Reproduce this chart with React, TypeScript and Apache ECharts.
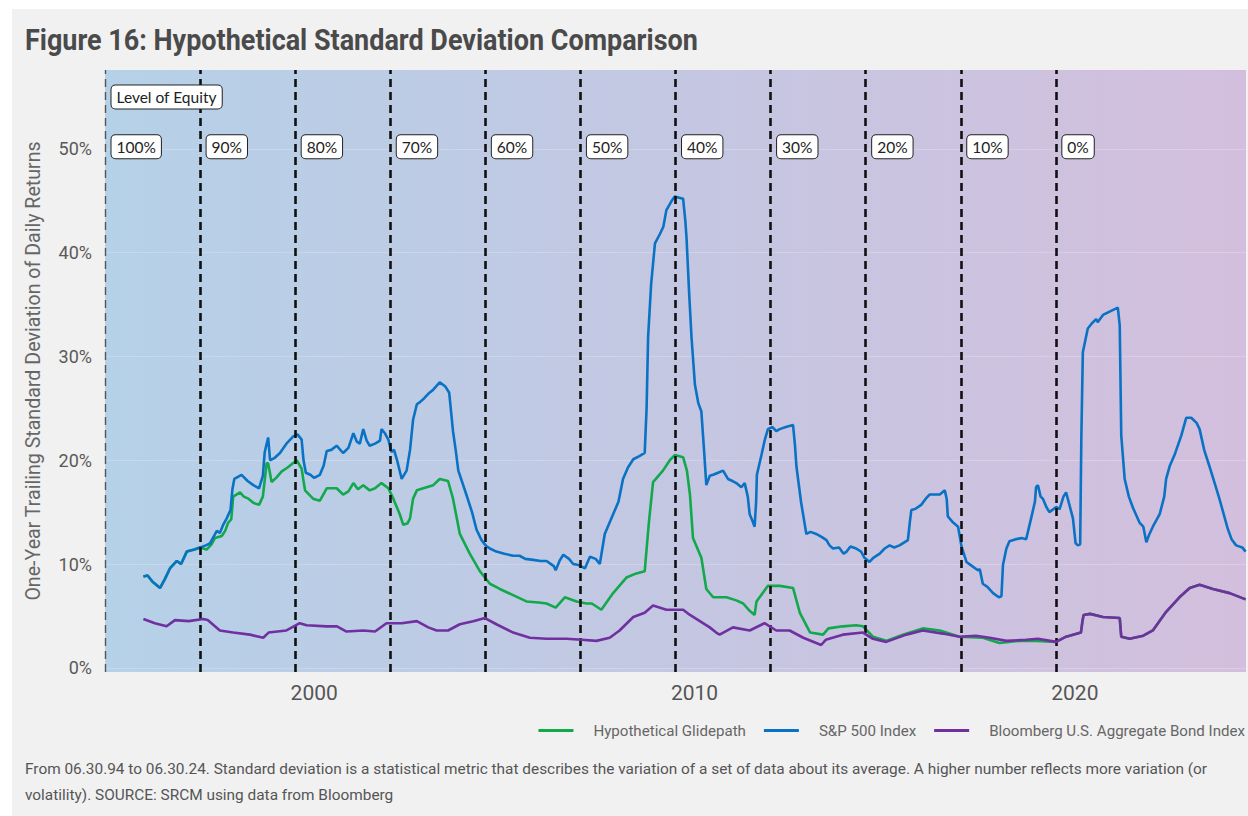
import React, { useEffect, useRef } from "react";
import * as echarts from "echarts";

// ---- Data (decimal year, one-year trailing std. dev. in %) ----
const glideYears = [1994.5, 1997, 1999.5, 2002, 2004.5, 2007, 2009.5, 2012, 2014.5, 2017, 2019.5];
const equityLevels = ["100%", "90%", "80%", "70%", "60%", "50%", "40%", "30%", "20%", "10%", "0%"];
const xTickYears = [2000, 2010, 2020];
const yTickValues = [0, 10, 20, 30, 40, 50];
const seriesNames = ["Hypothetical Glidepath", "S&P 500 Index", "Bloomberg U.S. Aggregate Bond Index"];

const sp500: number[][] = [
  [1995.51, 8.8], [1995.62, 8.9], [1995.75, 8.3], [1995.95, 7.7], [1996.08, 8.6], [1996.21, 9.6],
  [1996.39, 10.3], [1996.5, 10.0], [1996.65, 11.2], [1996.85, 11.4], [1997.0, 11.6], [1997.15, 11.8],
  [1997.26, 12.0], [1997.35, 12.6], [1997.44, 13.2], [1997.52, 13.0], [1997.61, 13.8], [1997.7, 14.4],
  [1997.8, 15.2], [1997.85, 17.2], [1997.9, 18.2], [1998.09, 18.6], [1998.25, 18.0], [1998.4, 17.6],
  [1998.55, 17.3], [1998.65, 18.5], [1998.7, 20.8], [1998.79, 22.2], [1998.84, 20.0], [1998.95, 20.2],
  [1999.1, 20.7], [1999.27, 21.6], [1999.45, 22.3], [1999.56, 22.5], [1999.67, 22.0], [1999.72, 20.0],
  [1999.78, 18.8], [1999.9, 18.6], [2000.0, 18.3], [2000.15, 18.6], [2000.25, 19.5], [2000.33, 20.9],
  [2000.45, 21.0], [2000.59, 21.4], [2000.76, 20.7], [2000.9, 21.2], [2001.03, 22.6], [2001.12, 21.8],
  [2001.2, 21.6], [2001.29, 23.0], [2001.38, 21.9], [2001.46, 21.4], [2001.6, 21.6], [2001.73, 21.9],
  [2001.77, 23.0], [2001.86, 22.6], [2001.95, 22.0], [2002.03, 20.8], [2002.1, 21.0], [2002.18, 20.0],
  [2002.3, 18.2], [2002.43, 19.0], [2002.52, 21.0], [2002.6, 23.9], [2002.7, 25.4], [2002.78, 25.6],
  [2002.9, 26.0], [2003.0, 26.4], [2003.13, 26.8], [2003.3, 27.5], [2003.45, 27.1], [2003.55, 26.5],
  [2003.65, 22.8], [2003.72, 21.0], [2003.79, 19.0], [2004.0, 16.7], [2004.15, 15.0], [2004.27, 13.3],
  [2004.4, 12.3], [2004.53, 11.7], [2004.62, 11.5], [2004.79, 11.2], [2005.0, 11.0], [2005.23, 10.8],
  [2005.4, 10.8], [2005.55, 10.5], [2005.76, 10.4], [2005.95, 10.3], [2006.11, 10.3], [2006.3, 9.8],
  [2006.35, 9.4], [2006.45, 10.3], [2006.55, 10.9], [2006.7, 10.5], [2006.81, 10.0], [2006.95, 9.9],
  [2007.12, 9.6], [2007.25, 10.7], [2007.4, 10.5], [2007.51, 10.0], [2007.64, 12.9], [2007.86, 14.8],
  [2008.0, 16.0], [2008.12, 18.2], [2008.25, 19.3], [2008.39, 20.1], [2008.55, 20.4], [2008.69, 20.7],
  [2008.74, 25.0], [2008.78, 31.9], [2008.86, 37.0], [2008.96, 40.9], [2009.09, 41.8], [2009.18, 42.5],
  [2009.26, 44.1], [2009.4, 45.0], [2009.48, 45.4], [2009.7, 45.2], [2009.76, 43.0], [2009.79, 41.4],
  [2009.86, 36.0], [2009.92, 31.9], [2010.01, 27.3], [2010.1, 25.5], [2010.18, 24.7], [2010.25, 21.0],
  [2010.31, 17.6], [2010.4, 18.5], [2010.49, 18.6], [2010.62, 18.8], [2010.75, 19.0], [2010.88, 18.2],
  [2011.0, 18.0], [2011.1, 17.8], [2011.23, 17.4], [2011.32, 17.8], [2011.4, 16.5], [2011.45, 14.8],
  [2011.52, 14.2], [2011.58, 13.6], [2011.62, 16.0], [2011.64, 18.6], [2011.76, 20.5], [2011.85, 22.0],
  [2011.93, 23.0], [2012.05, 23.2], [2012.15, 22.8], [2012.24, 23.0], [2012.4, 23.2], [2012.59, 23.4],
  [2012.64, 21.5], [2012.68, 19.4], [2012.8, 16.0], [2012.94, 12.9], [2013.05, 13.1], [2013.2, 12.9],
  [2013.35, 12.6], [2013.47, 12.3], [2013.55, 11.8], [2013.64, 11.5], [2013.8, 11.6], [2013.92, 11.0],
  [2014.0, 11.2], [2014.1, 11.7], [2014.25, 11.5], [2014.38, 11.2], [2014.47, 10.6], [2014.6, 10.2],
  [2014.7, 10.6], [2014.87, 11.0], [2015.0, 11.5], [2015.13, 11.8], [2015.25, 11.6], [2015.39, 11.8],
  [2015.61, 12.3], [2015.66, 14.0], [2015.7, 15.2], [2015.8, 15.3], [2015.96, 15.7], [2016.08, 16.3],
  [2016.18, 16.7], [2016.45, 16.7], [2016.58, 17.1], [2016.63, 16.3], [2016.66, 14.6], [2016.8, 14.0],
  [2016.93, 13.6], [2017.02, 11.7], [2017.15, 10.2], [2017.3, 9.8], [2017.45, 9.4], [2017.5, 9.5],
  [2017.58, 8.1], [2017.7, 7.8], [2017.85, 7.2], [2018.0, 6.8], [2018.07, 6.9], [2018.11, 9.9],
  [2018.2, 11.5], [2018.28, 12.2], [2018.45, 12.4], [2018.6, 12.5], [2018.72, 12.4], [2018.85, 14.4],
  [2018.95, 16.0], [2018.98, 17.4], [2019.03, 17.6], [2019.1, 16.5], [2019.16, 16.3], [2019.25, 15.5],
  [2019.33, 15.0], [2019.51, 15.5], [2019.6, 15.3], [2019.7, 16.5], [2019.77, 16.9], [2019.85, 15.8],
  [2019.95, 14.4], [2020.02, 12.0], [2020.08, 11.8], [2020.14, 11.9], [2020.17, 22.0], [2020.21, 30.4],
  [2020.34, 32.7], [2020.45, 33.2], [2020.56, 33.6], [2020.6, 33.3], [2020.74, 34.0], [2020.9, 34.3],
  [2021.13, 34.7], [2021.18, 33.0], [2021.22, 22.4], [2021.31, 18.2], [2021.42, 16.5], [2021.53, 15.4],
  [2021.7, 14.0], [2021.8, 13.6], [2021.88, 12.1], [2021.95, 12.8], [2022.05, 13.6], [2022.23, 14.8],
  [2022.35, 16.5], [2022.4, 18.2], [2022.5, 19.5], [2022.62, 20.5], [2022.8, 22.4], [2022.93, 24.1],
  [2023.06, 24.1], [2023.2, 23.6], [2023.28, 23.0], [2023.4, 21.0], [2023.54, 19.4], [2023.7, 17.5],
  [2023.8, 16.3], [2024.02, 13.4], [2024.12, 12.4], [2024.24, 11.8], [2024.4, 11.6], [2024.49, 11.2],
];

// Glidepath values while equity is between 90% and 10% (before: equals S&P, after: equals bonds)
const glideMid: number[][] = [
  [1997.17, 11.4], [1997.3, 11.9], [1997.39, 12.5], [1997.57, 12.7], [1997.66, 13.2], [1997.74, 14.0],
  [1997.82, 14.3], [1997.87, 16.5], [1998.05, 16.9], [1998.15, 16.5], [1998.27, 16.3], [1998.4, 15.9],
  [1998.55, 15.7], [1998.65, 16.5], [1998.75, 19.7], [1998.79, 19.7], [1998.88, 17.9], [1999.0, 18.3],
  [1999.14, 18.9], [1999.3, 19.3], [1999.54, 20.0], [1999.67, 19.2], [1999.72, 18.0], [1999.76, 17.1],
  [1999.97, 16.3], [2000.15, 16.1], [2000.33, 17.3], [2000.59, 17.3], [2000.76, 16.7], [2000.9, 17.0],
  [2001.03, 17.8], [2001.15, 17.2], [2001.29, 17.6], [2001.46, 17.1], [2001.6, 17.3], [2001.77, 17.8],
  [2001.95, 17.3], [2002.08, 16.3], [2002.25, 14.8], [2002.34, 13.8], [2002.45, 13.9], [2002.52, 14.4],
  [2002.6, 16.3], [2002.7, 17.1], [2002.87, 17.3], [2003.13, 17.6], [2003.3, 18.2], [2003.52, 18.0],
  [2003.65, 16.3], [2003.83, 12.9], [2004.09, 11.0], [2004.36, 9.3], [2004.62, 8.1], [2004.88, 7.6],
  [2005.23, 7.0], [2005.58, 6.4], [2005.9, 6.3], [2006.11, 6.2], [2006.35, 5.8], [2006.59, 6.8],
  [2006.9, 6.4], [2007.16, 6.2], [2007.3, 6.2], [2007.55, 5.6], [2007.86, 7.2], [2008.21, 8.7],
  [2008.47, 9.1], [2008.69, 9.3], [2008.8, 14.0], [2008.91, 17.9], [2009.17, 19.0], [2009.35, 20.0],
  [2009.48, 20.5], [2009.7, 20.3], [2009.8, 19.0], [2009.88, 16.7], [2009.96, 12.5], [2010.18, 10.6],
  [2010.31, 7.6], [2010.49, 6.8], [2010.84, 6.8], [2011.1, 6.5], [2011.28, 6.2], [2011.45, 5.5],
  [2011.58, 5.1], [2011.63, 6.4], [2011.93, 7.9], [2012.24, 7.9], [2012.59, 7.7], [2012.77, 5.3],
  [2013.04, 3.4], [2013.38, 3.2], [2013.52, 3.8], [2013.9, 4.0], [2014.25, 4.1], [2014.43, 4.0],
  [2014.69, 3.0], [2015.04, 2.6], [2015.48, 3.2], [2016.0, 3.8], [2016.45, 3.6], [2016.97, 3.0],
  [2017.58, 2.9], [2018.02, 2.4], [2018.55, 2.6], [2019.0, 2.6], [2019.5, 2.5],
];

const bonds: number[][] = [
  [1995.51, 4.7], [1995.81, 4.3], [1996.12, 4.0], [1996.34, 4.6], [1996.7, 4.5], [1997.08, 4.7],
  [1997.2, 4.6], [1997.52, 3.6], [1997.87, 3.4], [1998.31, 3.2], [1998.66, 2.9], [1998.8, 3.4],
  [1999.27, 3.6], [1999.62, 4.3], [1999.8, 4.1], [2000.33, 4.0], [2000.6, 4.0], [2000.85, 3.5],
  [2001.29, 3.6], [2001.6, 3.5], [2001.9, 4.3], [2002.3, 4.3], [2002.7, 4.5], [2003.0, 3.9],
  [2003.22, 3.6], [2003.52, 3.6], [2003.83, 4.2], [2004.18, 4.5], [2004.49, 4.8], [2004.79, 4.2],
  [2005.23, 3.4], [2005.67, 2.9], [2006.11, 2.8], [2006.63, 2.8], [2007.03, 2.7], [2007.42, 2.6],
  [2007.77, 2.9], [2008.03, 3.6], [2008.39, 4.9], [2008.69, 5.3], [2008.91, 6.0], [2009.26, 5.6],
  [2009.7, 5.6], [2009.88, 5.1], [2010.14, 4.5], [2010.4, 3.9], [2010.57, 3.4], [2010.66, 3.2],
  [2011.01, 3.9], [2011.45, 3.6], [2011.84, 4.3], [2012.15, 3.6], [2012.5, 3.6], [2012.86, 2.9],
  [2013.33, 2.2], [2013.45, 2.7], [2013.9, 3.2], [2014.43, 3.4], [2014.69, 2.8], [2015.04, 2.5],
  [2015.57, 3.2], [2016.0, 3.6], [2016.53, 3.3], [2016.97, 3.0], [2017.4, 3.1], [2017.76, 2.9],
  [2018.2, 2.6], [2018.72, 2.7], [2019.03, 2.8], [2019.51, 2.5], [2019.77, 3.0], [2020.16, 3.4],
  [2020.2, 4.5], [2020.23, 5.1], [2020.4, 5.2], [2020.74, 4.9], [2021.18, 4.8], [2021.22, 3.0],
  [2021.44, 2.8], [2021.8, 3.1], [2022.05, 3.6], [2022.4, 5.4], [2022.75, 6.8], [2023.02, 7.7],
  [2023.28, 8.0], [2023.63, 7.6], [2024.07, 7.2], [2024.49, 6.6],
];

const glidepath: number[][] = [
  ...sp500.filter((p) => p[0] <= 1997.0),
  ...glideMid,
  ...bonds.filter((p) => p[0] > 2019.5),
];

const titleText = "Figure 16: Hypothetical Standard Deviation Comparison";
const yAxisTitle = "One-Year Trailing Standard Deviation of Daily Returns";
const footLine1 =
  "From 06.30.94 to 06.30.24. Standard deviation is a statistical metric that describes the variation of a set of data about its average. A higher number reflects more variation (or";
const footLine2 = "volatility). SOURCE: SRCM using data from Bloomberg";

const colors = ["#12a84c", "#0a72c4", "#7030a0"];

export default function App() {
  const ref = useRef<HTMLDivElement>(null);

  useEffect(() => {
    if (!ref.current) return;
    const chart = echarts.init(ref.current, undefined, { renderer: "svg" });

    const boxLabel = {
      show: true,
      position: "right",
      distance: 6,
      formatter: "{b}",
      backgroundColor: "#ffffff",
      borderColor: "#222222",
      borderWidth: 1,
      borderRadius: 4,
      padding: [4, 5, 3, 5],
      fontFamily: "Lato",
      fontSize: 15.5,
      color: "#222222",
    };

    const option: any = {
      animation: false,
      backgroundColor: "transparent",
      grid: {
        left: 93,
        right: 2,
        top: 61,
        bottom: 144,
        show: true,
        borderWidth: 0,
        backgroundColor: {
          type: "linear",
          x: 0,
          y: 0,
          x2: 1,
          y2: 0,
          colorStops: [
            { offset: 0, color: "#b5d1e8" },
            { offset: 0.5, color: "#c4c7e2" },
            { offset: 1, color: "#d3bfdd" },
          ],
        },
      },
      xAxis: {
        type: "value",
        min: 1994.5,
        max: 2024.5,
        axisLine: { show: false },
        axisTick: { show: false, customValues: xTickYears },
        splitLine: { show: false },
        axisLabel: {
          customValues: xTickYears,
          margin: 10,
          fontFamily: "Roboto",
          fontSize: 21,
          color: "#555555",
          formatter: (v: number) => String(Math.round(v)),
        },
      },
      yAxis: {
        type: "value",
        min: -0.4,
        max: 57.6,
        axisLine: { show: false },
        axisTick: { show: false, customValues: yTickValues },
        splitLine: { show: true, lineStyle: { color: "rgba(255,255,255,0.22)", width: 1 } },
        axisLabel: {
          customValues: yTickValues,
          margin: 13,
          fontFamily: "Roboto",
          fontSize: 18,
          color: "#595959",
          formatter: (v: number) => Math.round(v) + "%",
        },
      },
      legend: {
        right: -2,
        top: 709,
        icon: "rect",
        itemWidth: 35,
        itemHeight: 3,
        itemGap: 18,
        data: seriesNames,
        textStyle: { fontFamily: "Roboto", fontSize: 15.1, color: "#666666", padding: [0, 0, 0, 15] },
      },
      graphic: [
        {
          type: "text",
          x: 13,
          y: 31,
          scaleX: 0.93,
          style: {
            text: titleText,
            fontFamily: "Roboto",
            fontWeight: "bold",
            fontSize: 29,
            fill: "#4a4a4a",
            verticalAlign: "middle",
          },
        },
        {
          type: "text",
          x: 21,
          y: 362,
          rotation: Math.PI / 2,
          style: {
            text: yAxisTitle,
            fontFamily: "Roboto",
            fontSize: 19.6,
            fill: "#666666",
            align: "center",
            verticalAlign: "middle",
          },
        },
        {
          type: "text",
          x: 13,
          y: 760,
          style: { text: footLine1, fontFamily: "Roboto", fontSize: 15.4, fill: "#555555", verticalAlign: "middle" },
        },
        {
          type: "text",
          x: 13,
          y: 786,
          style: { text: footLine2, fontFamily: "Roboto", fontSize: 15.4, fill: "#555555", verticalAlign: "middle" },
        },
      ],
      series: [
        {
          name: seriesNames[0],
          type: "line",
          data: glidepath,
          showSymbol: false,
          symbol: "none",
          lineStyle: { color: colors[0], width: 2.6 },
          itemStyle: { color: colors[0] },
          z: 3,
        },
        {
          name: seriesNames[1],
          type: "line",
          data: sp500,
          showSymbol: false,
          symbol: "none",
          lineStyle: { color: colors[1], width: 2.6 },
          itemStyle: { color: colors[1] },
          z: 4,
        },
        {
          name: seriesNames[2],
          type: "line",
          data: bonds,
          showSymbol: false,
          symbol: "none",
          lineStyle: { color: colors[2], width: 2.6 },
          itemStyle: { color: colors[2] },
          z: 5,
          markLine: {
            silent: true,
            symbol: ["none", "none"],
            label: { show: false },
            lineStyle: { color: "#111111", type: [8, 5], width: 2.6 },
            data: glideYears.map((yr, i) =>
              i === 0
                ? { xAxis: yr, lineStyle: { color: "#555555", width: 1.4, type: [8, 5] } }
                : { xAxis: yr }
            ),
          },
          markPoint: {
            silent: true,
            symbol: "circle",
            symbolSize: 1,
            itemStyle: { color: "rgba(0,0,0,0)" },
            label: boxLabel,
            data: [
              { name: "Level of Equity", coord: [glideYears[0], 55.0] },
              ...equityLevels.map((lvl, i) => ({ name: lvl, coord: [glideYears[i], 50.2] })),
            ],
          },
        },
      ],
    };

    chart.setOption(option);
    return () => chart.dispose();
  }, []);

  return (
    <div style={{ position: "absolute", left: 0, top: 0, width: 1248, height: 816, background: "#ffffff" }}>
      <div
        ref={ref}
        style={{ position: "absolute", left: 12, top: 9, width: 1236, height: 807, background: "#f1f1f1" }}
      />
    </div>
  );
}
